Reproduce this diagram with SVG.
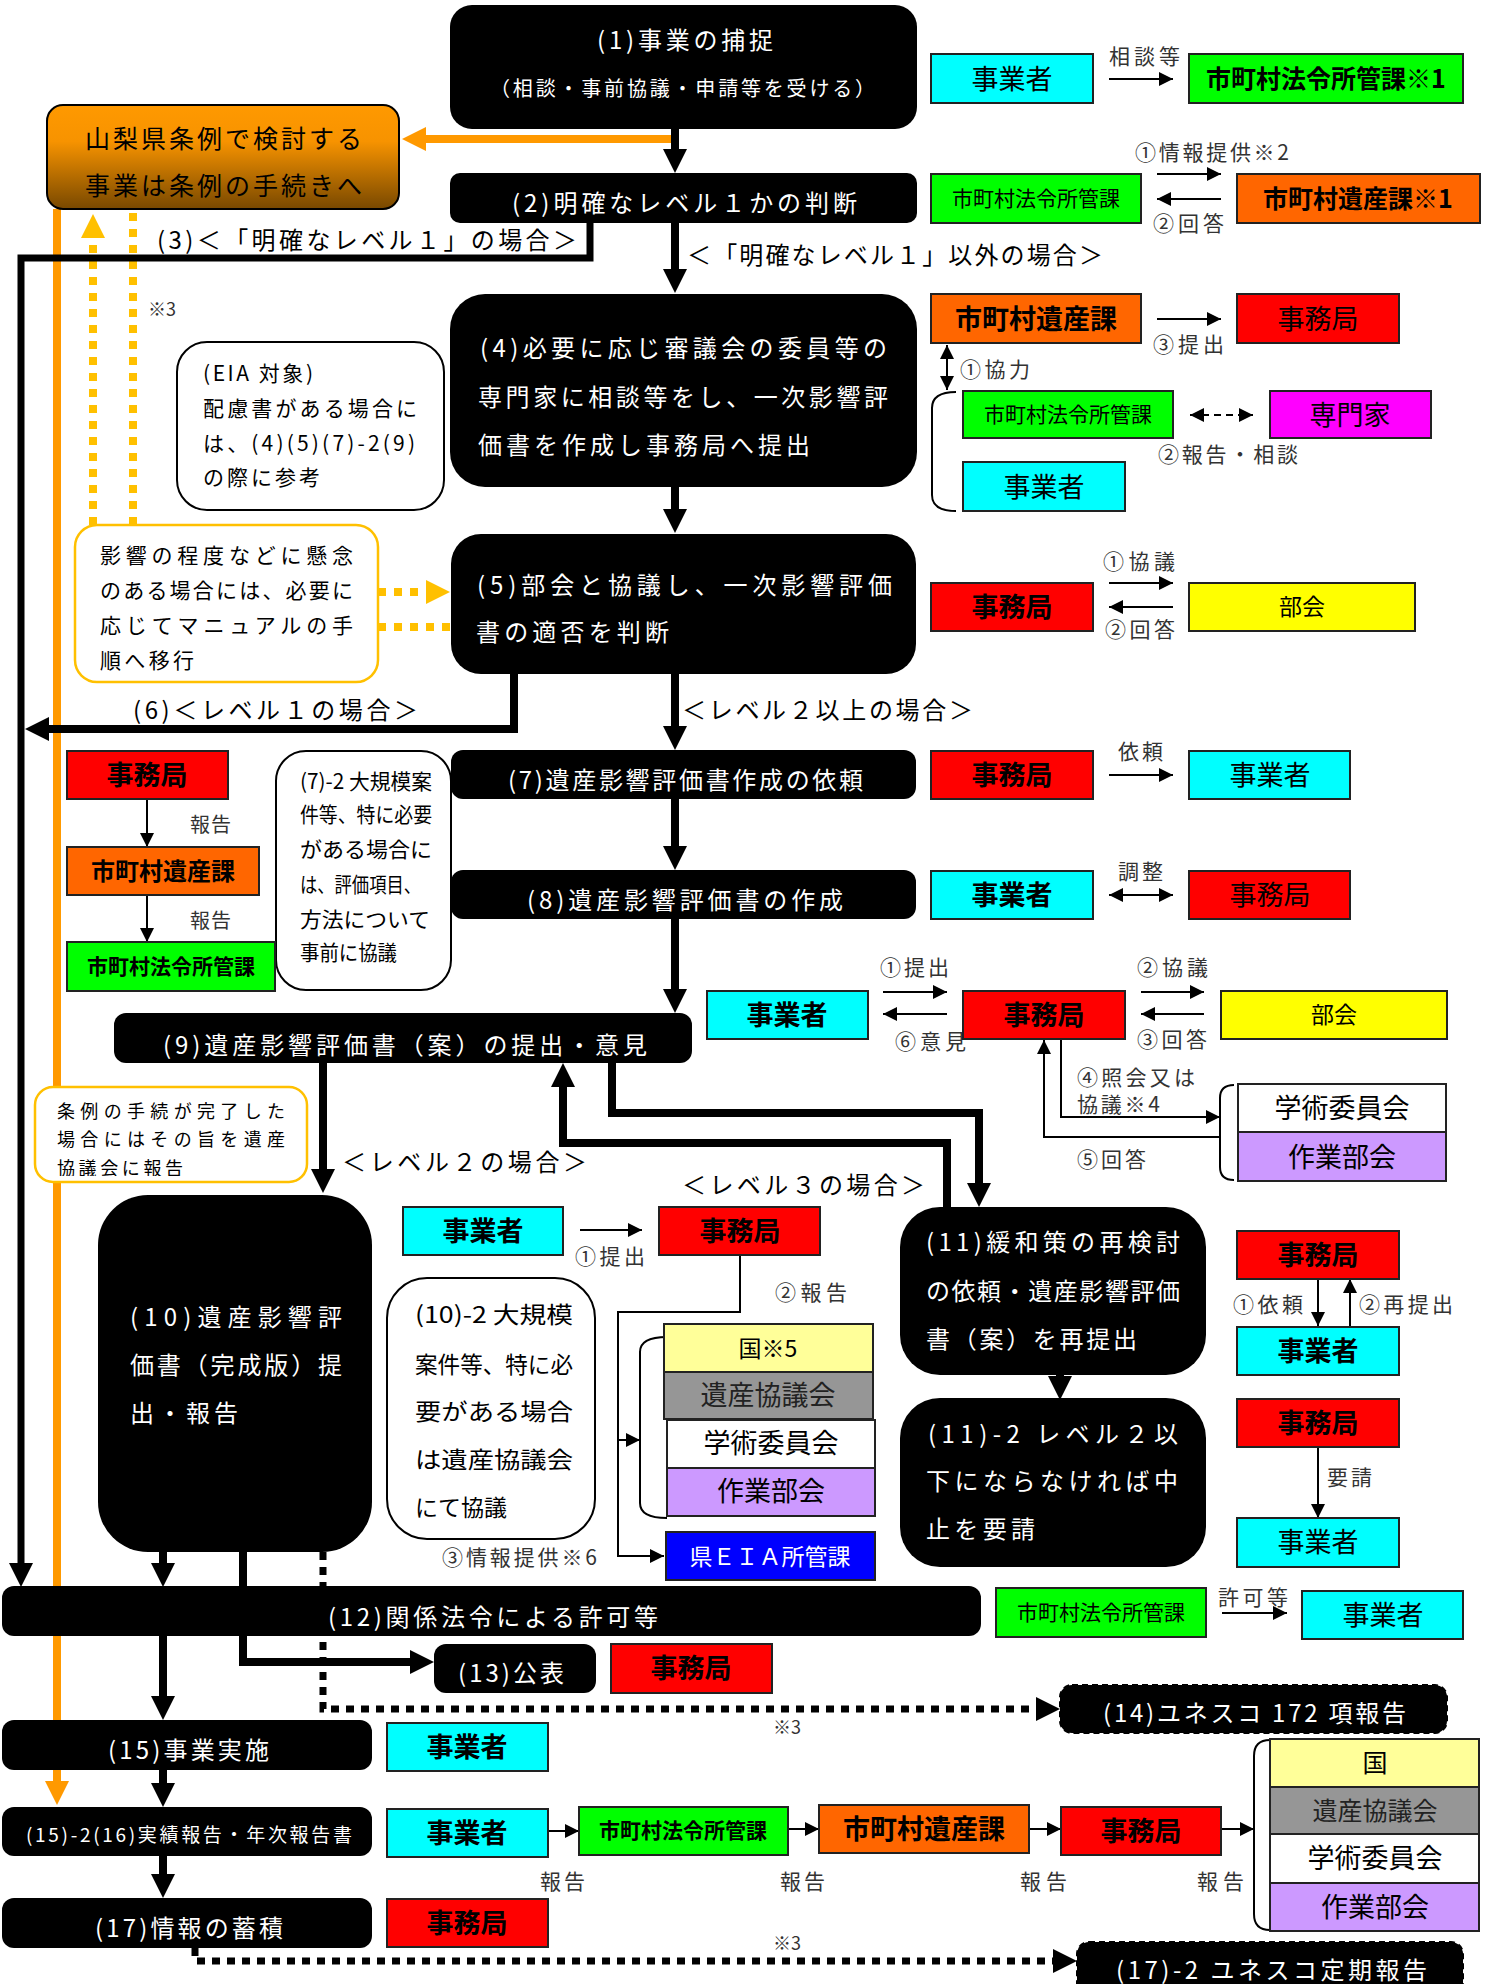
<svg xmlns="http://www.w3.org/2000/svg" width="1487" height="1984" viewBox="0 0 1487 1984">
<defs>
<linearGradient id="gOr" x1="0" y1="0" x2="0" y2="1">
<stop offset="0" stop-color="#FF9900"/><stop offset="0.35" stop-color="#F79300"/><stop offset="1" stop-color="#784800"/>
</linearGradient>
<marker id="aK" markerUnits="userSpaceOnUse" markerWidth="24" markerHeight="24" viewBox="0 0 24 24" refX="2" refY="12" orient="auto"><path d="M0,0L24,12L0,24z" fill="#000"/></marker>
<marker id="aO" markerUnits="userSpaceOnUse" markerWidth="24" markerHeight="24" viewBox="0 0 24 24" refX="2" refY="12" orient="auto"><path d="M0,0L24,12L0,24z" fill="#FF9900"/></marker>
<marker id="aY" markerUnits="userSpaceOnUse" markerWidth="24" markerHeight="24" viewBox="0 0 24 24" refX="2" refY="12" orient="auto"><path d="M0,0L24,12L0,24z" fill="#FFC000"/></marker>
<marker id="aS" markerUnits="userSpaceOnUse" markerWidth="14" markerHeight="14" viewBox="0 0 14 14" refX="14" refY="7" orient="auto"><path d="M0,0L14,7L0,14z" fill="#000"/></marker>
<marker id="aS2" markerUnits="userSpaceOnUse" markerWidth="14" markerHeight="14" viewBox="0 0 14 14" refX="14" refY="7" orient="auto-start-reverse"><path d="M0,0L14,7L0,14z" fill="#000"/></marker>
<clipPath id="cpJ"><rect x="35" y="1087" width="272" height="89"/></clipPath>
</defs>
<style>
text{font-family:"Noto Sans CJK JP","Noto Sans CJK SC",sans-serif;font-size:24px;fill:#000}
.w{fill:#fff}
.b{font-weight:bold}
.ct{text-anchor:middle}
.m{font-size:27px}
.l{fill:#333;font-size:21px}
.blk{fill:#000}
.dsh{stroke:#000;stroke-width:2;stroke-dasharray:6 4}
.bx{stroke:#222;stroke-width:2}
.cy{fill:#00FFFF}.gr{fill:#00FF00}.or{fill:#FF6600}.rd{fill:#FF0000}.ye{fill:#FFFF00}.mg{fill:#FF00FF}.py{fill:#FFFF99}.gy{fill:#969696}.pu{fill:#CC99FF}.wh{fill:#FFFFFF}.bl{fill:#0000FF}
.co{fill:#fff;stroke:#000;stroke-width:2}
.coy{fill:#fff;stroke:#FFC000;stroke-width:2.5}
.thick{fill:none;stroke:#000;stroke-width:8;marker-end:url(#aK)}
.thin{fill:none;stroke:#000;stroke-width:2;marker-end:url(#aS)}
.dbl{fill:none;stroke:#000;stroke-width:2;marker-end:url(#aS2);marker-start:url(#aS2)}
.brk{fill:none;stroke:#000;stroke-width:2}
.dot{fill:none;stroke:#000;stroke-width:7;stroke-dasharray:8 7;marker-end:url(#aK)}
.yd{fill:none;stroke:#FFC000;stroke-width:8;stroke-dasharray:8 8}
.orl{fill:none;stroke:#FF9900;stroke-width:8;marker-end:url(#aO)}
</style>
<rect width="1487" height="1984" fill="#fff"/>

<g id="connectors">
<path class="orl" d="M672,139H424"/>
<path class="orl" d="M57,209V1783"/>
<path class="yd" d="M93,525V236" marker-end="url(#aY)"/>
<path class="yd" d="M133,525V209"/>
<path class="yd" d="M378,592H428" marker-end="url(#aY)"/>
<path class="yd" d="M378,627H451"/>
<path class="thick" d="M675,129V151"/>
<path class="thick" d="M675,223V271"/>
<path class="thick" style="stroke-width:7" d="M590,223V258H21V1565"/>
<path class="thick" d="M675,487V511"/>
<path class="thick" d="M514,674V729H47"/>
<path class="thick" d="M675,674V728"/>
<path class="thick" d="M675,799V848"/>
<path class="thick" d="M675,919V991"/>
<path class="thick" d="M323,1063V1171"/>
<path class="thick" d="M612,1063V1113H979V1185"/>
<path class="thick" d="M947,1207V1143H563V1085"/>
<path class="thick" d="M1060,1375V1378"/>
<path class="thick" d="M163,1552V1565"/>
<path class="thick" d="M243,1552V1662H412"/>
<path class="thick" d="M163,1636V1698"/>
<path class="thick" d="M163,1770V1785"/>
<path class="thick" d="M163,1856V1876"/>
<path class="dot" d="M323,1552V1709H1038"/>
<path class="dot" d="M195,1948V1961H1055"/>
<path class="thin" d="M1109,79H1173"/>
<path class="thin" d="M1157,174H1221"/>
<path class="thin" d="M1221,199H1157"/>
<path class="thin" d="M1157,319H1221"/>
<path class="dbl" d="M947,345V390"/>
<path class="dbl" style="stroke-dasharray:7 5" d="M1190,415H1253"/>
<path class="thin" d="M1109,583H1173"/>
<path class="thin" d="M1173,607H1109"/>
<path class="thin" d="M1109,775H1173"/>
<path class="dbl" d="M1109,895H1173"/>
<path class="thin" d="M147,799V847"/>
<path class="thin" d="M147,895V942"/>
<path class="thin" d="M883,992H947"/>
<path class="thin" d="M947,1014H883"/>
<path class="thin" d="M1141,992H1204"/>
<path class="thin" d="M1204,1014H1141"/>
<path class="thin" d="M1061,1039V1117H1220"/>
<path class="thin" d="M1220,1137H1044V1040"/>
<path class="thin" d="M580,1230H642"/>
<path class="thin" d="M740,1255V1312H618V1556H664"/>
<path class="thin" d="M618,1440H640"/>
<path class="thin" d="M1318,1279V1326"/>
<path class="thin" d="M1350,1326V1279"/>
<path class="thin" d="M1318,1447V1518"/>
<path class="thin" d="M1222,1613H1287"/>
<path class="thin" d="M548,1831H579"/>
<path class="thin" d="M788,1829H819"/>
<path class="thin" d="M1029,1829H1061"/>
<path class="thin" d="M1221,1829H1254"/>
<path class="brk" d="M956,392Q932,392 932,408V495Q932,511 956,511"/>
<path class="brk" d="M667,1337Q640,1337 640,1352V1503Q640,1518 667,1518"/>
<path class="brk" d="M1234,1085Q1220,1085 1220,1098V1167Q1220,1180 1234,1180"/>
<path class="brk" d="M1270,1740Q1254,1740 1254,1756V1914Q1254,1930 1270,1930"/>
</g>

<g id="labels">
<text x="157" y="249" textLength="420" lengthAdjust="spacing">(3)＜「明確なレベル１」の場合＞</text>
<text x="687" y="264" textLength="416" lengthAdjust="spacing">＜「明確なレベル１」以外の場合＞</text>
<text x="133" y="719" textLength="285" lengthAdjust="spacing">(6)＜レベル１の場合＞</text>
<text x="682" y="719" textLength="291" lengthAdjust="spacing">＜レベル２以上の場合＞</text>
<text x="342" y="1171" textLength="245" lengthAdjust="spacing">＜レベル２の場合＞</text>
<text x="682" y="1194" textLength="243" lengthAdjust="spacing">＜レベル３の場合＞</text>
<text class="l" x="148" y="316" style="font-size:18px">※3</text>
<text class="l" x="773" y="1734" style="font-size:18px">※3</text>
<text class="l" x="773" y="1950" style="font-size:18px">※3</text>
<text class="l" x="1109" y="64" textLength="71">相談等</text>
<text class="l" x="1135" y="160" textLength="154">①情報提供※2</text>
<text class="l" x="1153" y="231" textLength="71">②回答</text>
<text class="l" x="1153" y="352" textLength="71">③提出</text>
<text class="l" x="960" y="377" textLength="70">①協力</text>
<text class="l" x="1158" y="462" textLength="140">②報告・相談</text>
<text class="l" x="1103" y="569" textLength="72">①協議</text>
<text class="l" x="1105" y="637" textLength="70">②回答</text>
<text class="l" x="1118" y="759" textLength="45">依頼</text>
<text class="l" x="1118" y="879" textLength="45">調整</text>
<text class="l" x="190" y="832" textLength="41" style="font-size:20px">報告</text>
<text class="l" x="190" y="928" textLength="41" style="font-size:20px">報告</text>
<text class="l" x="880" y="975" textLength="69">①提出</text>
<text class="l" x="895" y="1049" textLength="71">⑥意見</text>
<text class="l" x="1137" y="975" textLength="71">②協議</text>
<text class="l" x="1137" y="1047" textLength="70">③回答</text>
<text class="l" x="1077" y="1085" textLength="118">④照会又は</text>
<text class="l" x="1077" y="1112" textLength="83">協議※4</text>
<text class="l" x="1077" y="1167" textLength="69">⑤回答</text>
<text class="l" x="575" y="1264" textLength="70">①提出</text>
<text class="l" x="775" y="1300" textLength="72">②報告</text>
<text class="l" x="442" y="1565" textLength="155">③情報提供※6</text>
<text class="l" x="1233" y="1312" textLength="70">①依頼</text>
<text class="l" x="1359" y="1312" textLength="94">②再提出</text>
<text class="l" x="1327" y="1485" textLength="45">要請</text>
<text class="l" x="1218" y="1605" textLength="70">許可等</text>
<text class="l" x="540" y="1889" textLength="45">報告</text>
<text class="l" x="780" y="1889" textLength="45">報告</text>
<text class="l" x="1020" y="1889" textLength="47">報告</text>
<text class="l" x="1197" y="1889" textLength="47">報告</text>
</g>

<g id="n0"><rect x="47" y="105" width="352" height="104" rx="16" fill="url(#gOr)" stroke="#000" stroke-width="2"/>
<text x="85" y="148" textLength="277" style="font-size:25px">山梨県条例で検討する</text>
<text x="85" y="195" textLength="277" style="font-size:25px">事業は条例の手続きへ</text></g>

<g id="n1"><rect class="blk" x="450" y="5" width="467" height="124" rx="22"/>
<text class="w" x="597" y="49" textLength="176">(1)事業の捕捉</text>
<text class="w" x="490" y="96" textLength="385" style="font-size:20px">（相談・事前協議・申請等を受ける）</text></g>
<g id="n2"><rect class="blk" x="450" y="173" width="467" height="50" rx="10"/>
<text class="w" x="512" y="212" textLength="345">(2)明確なレベル１かの判断</text></g>
<g id="n4"><rect class="blk" x="450" y="294" width="467" height="193" rx="35"/>
<text class="w" x="480" y="357" textLength="407">(4)必要に応じ審議会の委員等の</text>
<text class="w" x="478" y="406" textLength="410">専門家に相談等をし、一次影響評</text>
<text class="w" x="478" y="454" textLength="332">価書を作成し事務局へ提出</text></g>
<g id="n5"><rect class="blk" x="451" y="534" width="465" height="140" rx="30"/>
<text class="w" x="477" y="594" textLength="415">(5)部会と協議し、一次影響評価</text>
<text class="w" x="476" y="641" textLength="193">書の適否を判断</text></g>
<g id="n7"><rect class="blk" x="451" y="750" width="465" height="49" rx="12"/>
<text class="w" x="508" y="789" textLength="355">(7)遺産影響評価書作成の依頼</text></g>
<g id="n8"><rect class="blk" x="451" y="870" width="465" height="49" rx="12"/>
<text class="w" x="527" y="909" textLength="316">(8)遺産影響評価書の作成</text></g>
<g id="n9"><rect class="blk" x="114" y="1013" width="578" height="50" rx="12"/>
<text class="w" x="163" y="1054" textLength="484">(9)遺産影響評価書（案）の提出・意見</text></g>
<g id="n10"><rect class="blk" x="98" y="1195" width="274" height="357" rx="50"/>
<text class="w" x="130" y="1326" textLength="212">(10)遺産影響評</text>
<text class="w" x="130" y="1374" textLength="212">価書（完成版）提</text>
<text class="w" x="130" y="1422" textLength="108">出・報告</text></g>
<g id="n11"><rect class="blk" x="900" y="1207" width="306" height="168" rx="40"/>
<text class="w" x="926" y="1251" textLength="254">(11)緩和策の再検討</text>
<text class="w" x="926" y="1300" textLength="254">の依頼・遺産影響評価</text>
<text class="w" x="926" y="1348" textLength="211">書（案）を再提出</text></g>
<g id="n11-2"><rect class="blk" x="900" y="1398" width="306" height="169" rx="40"/>
<text class="w" x="928" y="1443" textLength="250">(11)-2 レベル２以</text>
<text class="w" x="926" y="1490" textLength="252">下にならなければ中</text>
<text class="w" x="926" y="1538" textLength="109">止を要請</text></g>
<g id="n12"><rect class="blk" x="2" y="1586" width="979" height="50" rx="12"/>
<text class="w" x="328" y="1626" textLength="330">(12)関係法令による許可等</text></g>
<g id="n13"><rect class="blk" x="434" y="1644" width="162" height="49" rx="12"/>
<text class="w" x="458" y="1682" textLength="106">(13)公表</text></g>
<g id="n14"><rect class="blk dsh" x="1060" y="1685" width="387" height="48" rx="12"/>
<text class="w" x="1103" y="1722" textLength="303">(14)ユネスコ 172 項報告</text></g>
<g id="n15"><rect class="blk" x="2" y="1720" width="370" height="50" rx="12"/>
<text class="w" x="108" y="1759" textLength="161">(15)事業実施</text></g>
<g id="n15-2"><rect class="blk" x="2" y="1807" width="370" height="49" rx="12"/>
<text class="w" x="26" y="1842" textLength="326" style="font-size:19px">(15)-2(16)実績報告・年次報告書</text></g>
<g id="n17"><rect class="blk" x="2" y="1898" width="370" height="50" rx="12"/>
<text class="w" x="95" y="1937" textLength="188">(17)情報の蓄積</text></g>
<g id="n17-2"><rect class="blk dsh" x="1077" y="1942" width="386" height="60" rx="12"/>
<text class="w" x="1116" y="1979" textLength="311">(17)-2 ユネスコ定期報告</text></g>

<g id="cEIA"><rect class="co" x="177" y="342" width="267" height="168" rx="30"/>
<text x="203" y="381" textLength="110" style="font-size:21px">(EIA 対象)</text>
<text x="203" y="416" textLength="214" style="font-size:21px">配慮書がある場合に</text>
<text x="203" y="451" textLength="212" style="font-size:21px">は、(4)(5)(7)-2(9)</text>
<text x="203" y="485" textLength="117" style="font-size:21px">の際に参考</text></g>
<g id="cEikyo"><rect class="coy" x="75" y="525" width="303" height="157" rx="22"/>
<text x="100" y="563" textLength="253" style="font-size:21px">影響の程度などに懸念</text>
<text x="100" y="598" textLength="253" style="font-size:21px">のある場合には、必要に</text>
<text x="100" y="633" textLength="253" style="font-size:21px">応じてマニュアルの手</text>
<text x="100" y="668" textLength="94" style="font-size:21px">順へ移行</text></g>
<g id="c7-2"><rect class="co" x="276" y="751" width="175" height="239" rx="30"/>
<text x="300" y="789" textLength="132" lengthAdjust="spacingAndGlyphs" style="font-size:21px">(7)-2 大規模案</text>
<text x="300" y="822" textLength="132" lengthAdjust="spacingAndGlyphs" style="font-size:21px">件等、特に必要</text>
<text x="300" y="857" textLength="132" lengthAdjust="spacingAndGlyphs" style="font-size:21px">がある場合に</text>
<text x="300" y="892" textLength="121" lengthAdjust="spacingAndGlyphs" style="font-size:21px">は、評価項目、</text>
<text x="300" y="927" textLength="130" lengthAdjust="spacingAndGlyphs" style="font-size:21px">方法について</text>
<text x="300" y="960" textLength="97" lengthAdjust="spacingAndGlyphs" style="font-size:21px">事前に協議</text></g>
<g id="cJorei"><rect class="coy" x="35" y="1087" width="272" height="95" rx="18"/>
<text x="57" y="1118" textLength="228" style="font-size:18px">条例の手続が完了した</text>
<text x="57" y="1146" textLength="228" style="font-size:18px">場合にはその旨を遺産</text>
<text x="57" y="1175" textLength="126" style="font-size:18px" clip-path="url(#cpJ)">協議会に報告</text></g>
<g id="c10-2"><rect class="co" x="387" y="1278" width="208" height="261" rx="40"/>
<text x="415" y="1323" textLength="158" lengthAdjust="spacingAndGlyphs" style="font-size:23px">(10)-2 大規模</text>
<text x="415" y="1373" textLength="158" lengthAdjust="spacingAndGlyphs" style="font-size:23px">案件等、特に必</text>
<text x="415" y="1420" textLength="158" lengthAdjust="spacingAndGlyphs" style="font-size:23px">要がある場合</text>
<text x="415" y="1468" textLength="158" lengthAdjust="spacingAndGlyphs" style="font-size:23px">は遺産協議会</text>
<text x="415" y="1516" textLength="92" lengthAdjust="spacingAndGlyphs" style="font-size:23px">にて協議</text></g>

<g id="s1a"><rect class="bx cy" x="931" y="54" width="162" height="49"/><text class="ct m" x="1012" y="89">事業者</text></g>
<g id="s1b"><rect class="bx gr" x="1189" y="54" width="274" height="49"/><text class="ct b" x="1326" y="88" style="font-size:25px">市町村法令所管課※1</text></g>
<g id="s2a"><rect class="bx gr" x="931" y="174" width="210" height="49"/><text class="ct" x="1036" y="206" style="font-size:21px">市町村法令所管課</text></g>
<g id="s2b"><rect class="bx or" x="1237" y="174" width="243" height="49"/><text class="ct b" x="1358" y="208" style="font-size:25px">市町村遺産課※1</text></g>
<g id="s4a"><rect class="bx or" x="931" y="294" width="210" height="49"/><text class="ct b m" x="1036" y="329">市町村遺産課</text></g>
<g id="s4b"><rect class="bx rd" x="1237" y="294" width="162" height="49"/><text class="ct m" x="1318" y="329">事務局</text></g>
<g id="s4c"><rect class="bx gr" x="963" y="391" width="210" height="47"/><text class="ct" x="1068" y="422" style="font-size:21px">市町村法令所管課</text></g>
<g id="s4d"><rect class="bx mg" x="1270" y="391" width="161" height="47"/><text class="ct m" x="1350" y="425">専門家</text></g>
<g id="s4e"><rect class="bx cy" x="963" y="462" width="162" height="49"/><text class="ct m" x="1044" y="497">事業者</text></g>
<g id="s5a"><rect class="bx rd" x="931" y="583" width="162" height="48"/><text class="ct b m" x="1012" y="617">事務局</text></g>
<g id="s5b"><rect class="bx ye" x="1189" y="583" width="226" height="48"/><text class="ct" x="1302" y="615" style="font-size:23px">部会</text></g>
<g id="s7a"><rect class="bx rd" x="931" y="751" width="162" height="48"/><text class="ct b m" x="1012" y="785">事務局</text></g>
<g id="s7b"><rect class="bx cy" x="1189" y="751" width="161" height="48"/><text class="ct m" x="1270" y="785">事業者</text></g>
<g id="s8a"><rect class="bx cy" x="931" y="871" width="162" height="48"/><text class="ct b m" x="1012" y="905">事業者</text></g>
<g id="s8b"><rect class="bx rd" x="1189" y="871" width="161" height="48"/><text class="ct m" x="1270" y="905">事務局</text></g>
<g id="sLa"><rect class="bx rd" x="67" y="751" width="161" height="48"/><text class="ct b m" x="147" y="785">事務局</text></g>
<g id="sLb"><rect class="bx or" x="67" y="847" width="192" height="48"/><text class="ct b" x="163" y="880">市町村遺産課</text></g>
<g id="sLc"><rect class="bx gr" x="67" y="942" width="208" height="49"/><text class="ct b" x="171" y="974" style="font-size:21px">市町村法令所管課</text></g>
<g id="s9a"><rect class="bx cy" x="707" y="991" width="161" height="48"/><text class="ct b m" x="787" y="1025">事業者</text></g>
<g id="s9b"><rect class="bx rd" x="963" y="991" width="162" height="48"/><text class="ct b m" x="1044" y="1025">事務局</text></g>
<g id="s9c"><rect class="bx ye" x="1221" y="991" width="226" height="48"/><text class="ct" x="1334" y="1023" style="font-size:23px">部会</text></g>
<g id="s9d"><rect class="bx wh" x="1238" y="1084" width="208" height="48"/><text class="ct m" x="1342" y="1118">学術委員会</text></g>
<g id="s9e"><rect class="bx pu" x="1238" y="1132" width="208" height="49"/><text class="ct m" x="1342" y="1167">作業部会</text></g>
<g id="s10a"><rect class="bx cy" x="403" y="1207" width="160" height="48"/><text class="ct b m" x="483" y="1241">事業者</text></g>
<g id="s10b"><rect class="bx rd" x="659" y="1207" width="161" height="48"/><text class="ct b m" x="740" y="1241">事務局</text></g>
<g id="s10c"><rect class="bx py" x="664" y="1324" width="209" height="48"/><text class="ct" x="768" y="1357" style="font-size:23px">国※5</text></g>
<g id="s10d"><rect class="bx gy" x="664" y="1372" width="209" height="47"/><text class="ct m" x="768" y="1405" style="fill:#222">遺産協議会</text></g>
<g id="s10e"><rect class="bx wh" x="667" y="1420" width="208" height="48"/><text class="ct m" x="771" y="1453">学術委員会</text></g>
<g id="s10f"><rect class="bx pu" x="667" y="1468" width="208" height="48"/><text class="ct m" x="771" y="1501">作業部会</text></g>
<g id="s10g"><rect class="bx bl" x="666" y="1532" width="209" height="48"/><text class="ct w" x="770" y="1565" style="font-size:23px">県ＥＩＡ所管課</text></g>
<g id="s11a"><rect class="bx rd" x="1237" y="1231" width="162" height="48"/><text class="ct b m" x="1318" y="1265">事務局</text></g>
<g id="s11b"><rect class="bx cy" x="1237" y="1327" width="162" height="48"/><text class="ct b m" x="1318" y="1361">事業者</text></g>
<g id="s11c"><rect class="bx rd" x="1237" y="1399" width="162" height="48"/><text class="ct b m" x="1318" y="1433">事務局</text></g>
<g id="s11d"><rect class="bx cy" x="1237" y="1518" width="162" height="49"/><text class="ct m" x="1318" y="1552">事業者</text></g>
<g id="s12a"><rect class="bx gr" x="996" y="1588" width="210" height="49"/><text class="ct" x="1101" y="1620" style="font-size:21px">市町村法令所管課</text></g>
<g id="s12b"><rect class="bx cy" x="1302" y="1591" width="161" height="48"/><text class="ct m" x="1383" y="1625">事業者</text></g>
<g id="s13"><rect class="bx rd" x="611" y="1644" width="161" height="49"/><text class="ct b m" x="691" y="1678">事務局</text></g>
<g id="s15"><rect class="bx cy" x="387" y="1723" width="161" height="48"/><text class="ct b m" x="467" y="1757">事業者</text></g>
<g id="s16a"><rect class="bx cy" x="387" y="1809" width="161" height="48"/><text class="ct b m" x="467" y="1843">事業者</text></g>
<g id="s16b"><rect class="bx gr" x="579" y="1807" width="209" height="48"/><text class="ct b" x="683" y="1838" style="font-size:21px">市町村法令所管課</text></g>
<g id="s16c"><rect class="bx or" x="819" y="1805" width="210" height="48"/><text class="ct b m" x="924" y="1839">市町村遺産課</text></g>
<g id="s16d"><rect class="bx rd" x="1061" y="1807" width="160" height="48"/><text class="ct b m" x="1141" y="1841">事務局</text></g>
<g id="s16e"><rect class="bx py" x="1270" y="1739" width="209" height="48"/><text class="ct" x="1375" y="1772" style="font-size:25px">国</text></g>
<g id="s16f"><rect class="bx gy" x="1270" y="1787" width="209" height="47"/><text class="ct" x="1375" y="1820" style="font-size:25px;fill:#222">遺産協議会</text></g>
<g id="s16g"><rect class="bx wh" x="1270" y="1834" width="209" height="49"/><text class="ct m" x="1375" y="1868">学術委員会</text></g>
<g id="s16h"><rect class="bx pu" x="1270" y="1883" width="209" height="48"/><text class="ct m" x="1375" y="1917">作業部会</text></g>
<g id="s17"><rect class="bx rd" x="387" y="1899" width="161" height="48"/><text class="ct b m" x="467" y="1933">事務局</text></g>
</svg>
